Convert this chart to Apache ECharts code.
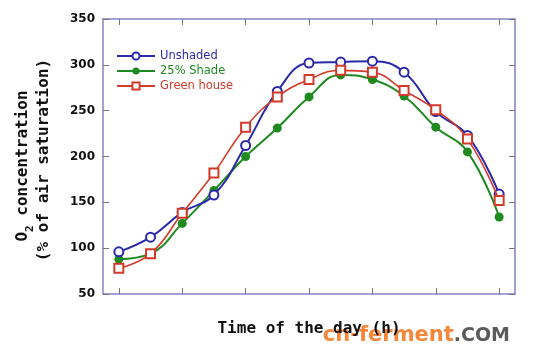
<!DOCTYPE html>
<html><head><meta charset="utf-8">
<script src="https://cdn.jsdelivr.net/npm/echarts@6/dist/echarts.min.js"></script>
<style>html,body{margin:0;padding:0;background:#fff}#c{width:546px;height:358px}</style>
</head><body><div id="c"></div>
<script>
const hours = [6,7,8,9,10,11,12,13,14,15,16,17,18];
const unshaded = [96,112,139,158,212,271,302,303,304,292,249,223,159];
const shade25 = [88,94,127,163,200,231,265,289,284,266,232,205,134];
const greenhouse = [78,94,138,182,232,265,284,294,292,272,251,219,152];
const seriesNames = ['Unshaded','25% Shade','Green house'];
const colors = ['#2a2aa8','#1f8a1f','#d23a2a'];

const pair = arr => hours.map((h,i)=>[h,arr[i]]);
const tickFont = {fontFamily:'DejaVu Sans',fontWeight:'bold',fontSize:12,color:'#111'};
const frame = '#8484c4';
const chart = echarts.init(document.getElementById('c'));
chart.setOption({
  animation:false,
  backgroundColor:'#fff',
  grid:{left:103,right:31,top:19,bottom:64},
  legend:{
    left:111, top:45, orient:'vertical', itemWidth:38, itemHeight:9, itemGap:3,
    textStyle:{fontFamily:'DejaVu Sans',fontSize:11.5},
    data: seriesNames.map((n,i)=>({name:n,textStyle:{color:colors[i]}}))
  },
  xAxis:[{
    type:'value', min:5.5, max:18.5, interval:2,
    axisLabel:{...tickFont, margin:10, formatter:v=>(v%2===0&&v>=6&&v<=18)?String(v):''},
    axisLine:{show:true,lineStyle:{color:frame,width:1.5}},
    axisTick:{show:true,inside:true,length:6,lineStyle:{color:'#777'},customValues:[6,8,10,12,14,16,18]},
    splitLine:{show:false},
    name:'Time of the day (h)', nameLocation:'middle', nameGap:27,
    nameTextStyle:{fontFamily:'DejaVu Sans Mono',fontWeight:'bold',fontSize:16,color:'#111'}
  },{
    type:'value', position:'top', min:5.5, max:18.5,
    axisLabel:{show:false},
    axisLine:{show:true,lineStyle:{color:frame,width:1.5}},
    axisTick:{show:true,inside:true,length:6,lineStyle:{color:'#777'},customValues:[6,8,10,12,14,16,18]},
    splitLine:{show:false}
  }],
  yAxis:[{
    type:'value', min:50, max:350, interval:50,
    axisLabel:{...tickFont, margin:8},
    axisLine:{show:true,lineStyle:{color:frame,width:1.5}},
    axisTick:{show:true,inside:true,length:6,lineStyle:{color:'#777'}},
    splitLine:{show:false}
  },{
    type:'value', position:'right', min:50, max:350, interval:50,
    axisLabel:{show:false},
    axisLine:{show:true,lineStyle:{color:frame,width:1.5}},
    axisTick:{show:true,inside:true,length:6,lineStyle:{color:'#777'}},
    splitLine:{show:false}
  }],
  series:[
    {name:seriesNames[0],type:'line',smooth:0.45,data:pair(unshaded),symbol:'emptyCircle',symbolSize:9,
     itemStyle:{color:colors[0],borderWidth:1.2},lineStyle:{color:colors[0],width:2},z:3},
    {name:seriesNames[1],type:'line',smooth:0.45,data:pair(shade25),symbol:'circle',symbolSize:9,
     itemStyle:{color:colors[1]},lineStyle:{color:colors[1],width:2},z:2},
    {name:seriesNames[2],type:'line',smooth:0.45,data:pair(greenhouse),symbol:'emptyRect',symbolSize:9,
     itemStyle:{color:colors[2],borderWidth:1.1},lineStyle:{color:colors[2],width:1.6},z:4}
  ],
  graphic:[
    {type:'text',x:23,y:166,rotation:Math.PI/2,
     style:{text:'{a|O}{s|2}{a| concentration}',align:'center',verticalAlign:'middle',
       rich:{a:{fontFamily:'DejaVu Sans Mono',fontWeight:'bold',fontSize:16,fill:'#111',lineHeight:20},
             s:{fontFamily:'DejaVu Sans Mono',fontWeight:'bold',fontSize:11,fill:'#111',lineHeight:20,padding:[14,0,0,0]}}}},
    {type:'text',x:44,y:160,rotation:Math.PI/2,
     style:{text:'(% of air saturation)',align:'center',verticalAlign:'middle',
       font:'bold 16px "DejaVu Sans Mono"',fill:'#111'}},
    {type:'text',x:510,y:336,
     style:{text:'{o|cn-ferment}{g|.COM}',align:'right',verticalAlign:'middle',
       rich:{o:{fontFamily:'DejaVu Sans',fontWeight:'bold',fontSize:21,fill:'#f5873a'},
             g:{fontFamily:'DejaVu Sans',fontWeight:'bold',fontSize:19,fill:'#5a5a5a'}}}}
  ]
});
</script></body></html>
